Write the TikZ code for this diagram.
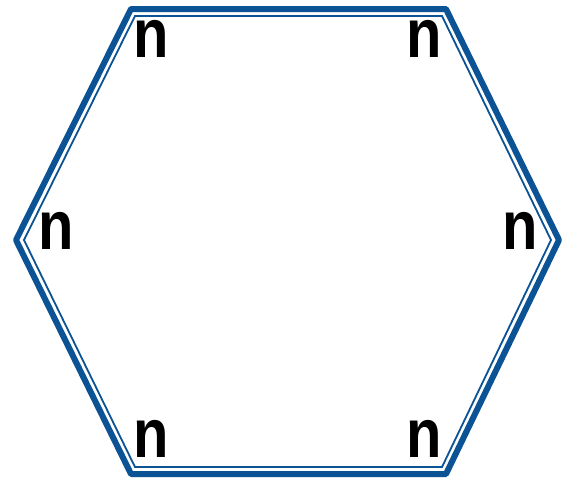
\documentclass[tikz,border=0pt]{standalone}
\usepackage{fontspec}
\setmainfont{Liberation Sans}
\usepackage{xcolor}
\definecolor{hexblue}{HTML}{0B5394}
\newcommand{\nlab}{\scalebox{0.84}[1]{n}}

\begin{document}
\begin{tikzpicture}[x=1pt, y=-1pt,
  outer/.style={draw=hexblue, line width=6pt, line join=round},
  inner/.style={draw=hexblue, line width=1.8pt, line join=miter},
  lbl/.style={inner sep=0pt, font=\fontsize{69}{69}\selectfont\bfseries}]
  \useasboundingbox (0,0) rectangle (564,482);
  % outer and inner rims
  \draw[outer] (131,9) -- (446,9) -- (559,240) -- (446,474) -- (131,474) -- (16,240) -- cycle;
  \draw[inner] (135,16) -- (442,16) -- (551,240) -- (442,467) -- (135,467) -- (24,240) -- cycle;
  % corner labels
  \node[lbl] (ntl) at (151,39) {\nlab};
  \node[lbl] (ntr) at (424,39) {\nlab};
  \node[lbl] (nl) at (56,231) {\nlab};
  \node[lbl] (nr) at (520,231) {\nlab};
  \node[lbl] (nbl) at (151,439) {\nlab};
  \node[lbl] (nbr) at (424,439) {\nlab};
\end{tikzpicture}
\end{document}
